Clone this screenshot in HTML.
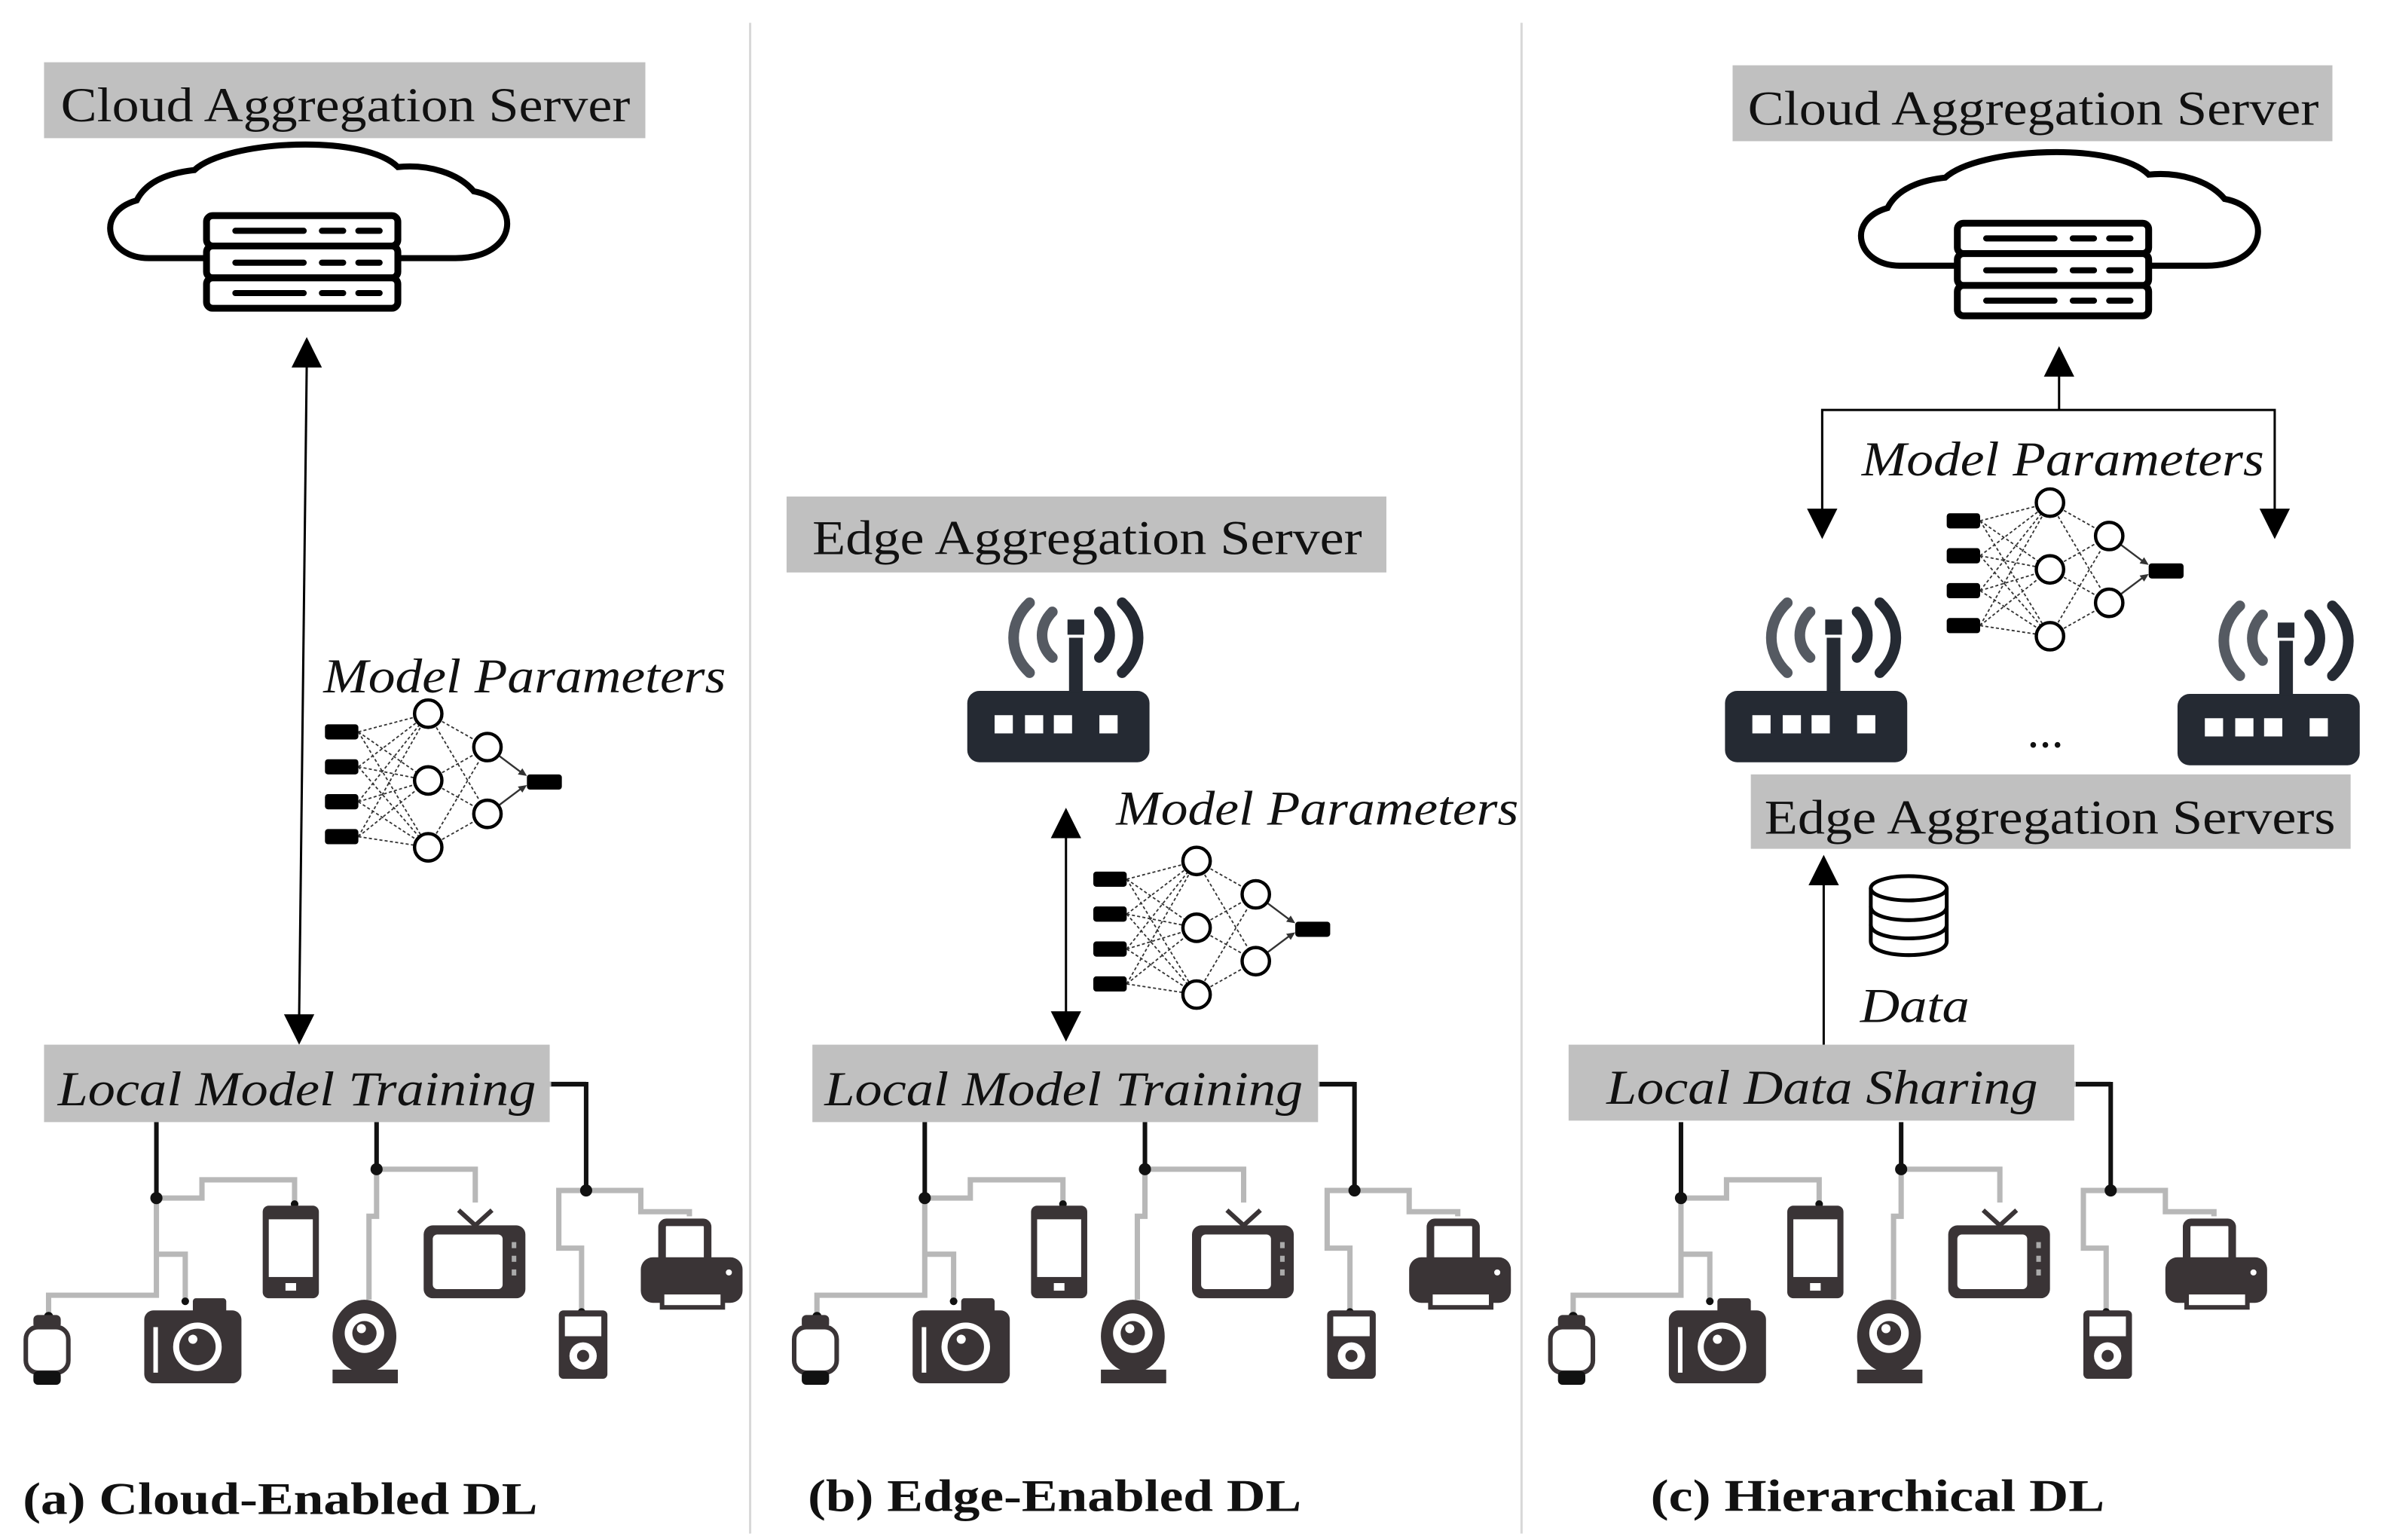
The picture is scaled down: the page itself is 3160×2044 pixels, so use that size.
<!DOCTYPE html>
<html><head><meta charset="utf-8"><style>
html,body{margin:0;padding:0;background:#fff;}
svg{display:block;}
.t{font-family:"Liberation Serif","Times New Roman",Tinos,Times,serif;font-size:32px;fill:#111;}
.i{font-style:italic;}
.b{font-weight:bold;font-size:30px;}
</style></head><body>
<svg width="3160" height="2044" viewBox="0 0 1568 1014.2" preserveAspectRatio="none" xmlns="http://www.w3.org/2000/svg">
<defs>
<g id="cloud" fill="none" stroke="#000">
  <path d="M134,170 H98 C70,170 62,140 90,132 C96,120 110,114 128,112 C150,92 240,88 262,110 C282,108 302,114 312,126 C344,132 342,170 300,170 H262" stroke-width="4"/>
  <rect x="136" y="142" width="126" height="20" rx="4" fill="#fff" stroke-width="4.5"/>
  <rect x="136" y="162" width="126" height="21" rx="4" fill="#fff" stroke-width="4.5"/>
  <rect x="136" y="183" width="126" height="20" rx="4" fill="#fff" stroke-width="4.5"/>
  <path d="M155,152 H200 M212,152 H226 M236,152 H250 M155,173 H200 M212,173 H226 M236,173 H250 M155,193 H200 M212,193 H226 M236,193 H250" stroke-width="4" stroke-linecap="round"/>
</g>
<g id="router">
  <rect x="637" y="455" width="120" height="47" rx="8" fill="#252a33"/>
  <g fill="#fff"><rect x="655" y="471" width="12" height="12"/><rect x="675" y="471" width="12" height="12"/><rect x="694" y="471" width="12" height="12"/><rect x="724" y="471" width="12" height="12"/></g>
  <rect x="704" y="420" width="9" height="36" fill="#252a33"/>
  <rect x="703" y="408" width="11" height="10" fill="#252a33"/>
  <g fill="none" stroke="#252a33" stroke-width="7" stroke-linecap="round">
    <path d="M693,403 C684,412 684,425 693,433" stroke="#555a62"/>
    <path d="M724,403 C733,412 733,425 724,433"/>
    <path d="M678,397 C664,410 664,430 678,443" stroke="#555a62"/>
    <path d="M739,397 C753,410 753,430 739,443"/>
  </g>
</g>
<g id="nn">
  <g stroke="#333" stroke-width="0.9" stroke-dasharray="2 1.5" fill="none">
    <path d="M236,482 L282,470 M236,482 L282,514 M236,482 L282,558 M236,505 L282,470 M236,505 L282,514 M236,505 L282,558 M236,528 L282,470 M236,528 L282,514 M236,528 L282,558 M236,551 L282,470 M236,551 L282,514 M236,551 L282,558 M282,470 L321,492 M282,470 L321,536 M282,514 L321,492 M282,514 L321,536 M282,558 L321,492 M282,558 L321,536"/>
  </g>
  <path d="M321,492 L345,510 M321,536 L345,518" stroke="#333" stroke-width="1.2"/>
  <path d="M347,511 l-6,-1 l3,-4z M347,517 l-6,1 l3,4z" fill="#333"/>
  <g fill="#000"><rect x="214" y="477" width="22" height="10" rx="2"/><rect x="214" y="500" width="22" height="10" rx="2"/><rect x="214" y="523" width="22" height="10" rx="2"/><rect x="214" y="546" width="22" height="10" rx="2"/><rect x="347" y="510" width="23" height="10" rx="2"/></g>
  <g fill="#fff" stroke="#000" stroke-width="2.2"><circle cx="282" cy="470" r="9"/><circle cx="282" cy="514" r="9"/><circle cx="282" cy="558" r="9"/><circle cx="321" cy="492" r="9"/><circle cx="321" cy="536" r="9"/></g>
</g>
<g id="tree">
  <g fill="none" stroke-linejoin="miter">
    <g stroke="#b8b8b8" stroke-width="3.5">
      <path d="M103,789 H133 V777 H194 V794"/>
      <path d="M103,789 V853 H32 V867"/>
      <path d="M103,826 H122 V857"/>
      <path d="M248,770 H313 V792"/>
      <path d="M248,770 V801 H243 V856"/>
      <path d="M386,784 H422 V798 H454 V801"/>
      <path d="M386,784 H368 V822 H383 V864"/>
      <path d="M362,714 H386"/>
    </g>
    <g stroke="#111" stroke-width="3">
      <path d="M103,739 V789"/><path d="M248,739 V770"/><path d="M363,714 H386 V784"/>
    </g>
  </g>
  <g fill="#111"><circle cx="103" cy="789" r="4"/><circle cx="248" cy="770" r="4"/><circle cx="386" cy="784" r="4"/>
    <circle cx="194" cy="793" r="2.5"/><circle cx="122" cy="857" r="2.5"/><circle cx="383" cy="864" r="2.5"/><circle cx="32" cy="867" r="3"/></g>
  <g fill="#3a3436">
    <rect x="173" y="794" width="37" height="61" rx="4"/>
    <rect x="177" y="803" width="29" height="38" fill="#fff"/>
    <rect x="188" y="845" width="7" height="5" fill="#fff"/>
    <rect x="95" y="863" width="64" height="48" rx="6"/>
    <rect x="127" y="855" width="22" height="10" rx="2"/>
    <rect x="101" y="874" width="3" height="30" fill="#fff"/>
    <circle cx="130" cy="887" r="16" fill="#fff"/><circle cx="130" cy="887" r="12"/><circle cx="127" cy="882" r="3" fill="#fff"/>
    <rect x="17" y="874" width="28" height="30" rx="8" fill="#fff" stroke="#3a3436" stroke-width="3"/>
    <rect x="22" y="866" width="18" height="9" rx="3"/><rect x="22" y="903" width="18" height="9" rx="3" fill="#111"/>
    <rect x="279" y="807" width="67" height="48" rx="6"/>
    <rect x="285" y="813" width="46" height="36" rx="3" fill="#fff"/>
    <rect x="337" y="818" width="3" height="4" fill="#aaa"/><rect x="337" y="827" width="3" height="4" fill="#aaa"/><rect x="337" y="836" width="3" height="4" fill="#aaa"/>
    <path d="M302,797 L313,807 L324,797" fill="none" stroke="#3a3436" stroke-width="3"/>
    <ellipse cx="240" cy="880" rx="21" ry="24"/>
    <circle cx="240" cy="878" r="13" fill="#fff"/><circle cx="240" cy="878" r="8"/><circle cx="238" cy="875" r="3" fill="#fff"/>
    <rect x="219" y="902" width="43" height="9"/>
    <rect x="368" y="863" width="32" height="45" rx="3"/>
    <rect x="372" y="867" width="24" height="13" fill="#fff"/>
    <circle cx="384" cy="893" r="9" fill="#fff"/><circle cx="384" cy="893" r="4"/>
    <rect x="436" y="805" width="30" height="28" rx="3" fill="#fff" stroke="#3a3436" stroke-width="5"/>
    <rect x="422" y="828" width="67" height="30" rx="8"/>
    <rect x="436" y="851" width="40" height="10" fill="#fff" stroke="#3a3436" stroke-width="3"/>
    <circle cx="480" cy="838" r="2" fill="#fff"/>
  </g>
</g>
<path id="up" d="M0,0 L-10,20 L10,20Z" fill="#000"/>
<path id="dn" d="M0,0 L-10,-20 L10,-20Z" fill="#000"/>
</defs>

<rect width="1568" height="1015" fill="#fff"/>
<path d="M494,15 V1010 M1002,15 V1010" stroke="#d8d8d8" stroke-width="1.5"/>

<rect x="29" y="41" width="396" height="50" fill="#c0c0c0"/>
<text class="t" x="40" y="80" textLength="375" lengthAdjust="spacingAndGlyphs">Cloud Aggregation Server</text>
<use href="#cloud"/>
<path d="M202,240 L197,670" stroke="#000" stroke-width="1.5"/>
<use href="#up" x="202" y="222"/>
<use href="#dn" x="197" y="688"/>
<text class="t i" x="213" y="456" textLength="265" lengthAdjust="spacingAndGlyphs">Model Parameters</text>
<use href="#nn"/>
<rect x="29" y="688" width="333" height="51" fill="#c0c0c0"/>
<text class="t i" x="38" y="728" textLength="315" lengthAdjust="spacingAndGlyphs">Local Model Training</text>
<use href="#tree"/>
<text class="t b" x="15" y="997" textLength="339" lengthAdjust="spacingAndGlyphs">(a) Cloud-Enabled DL</text>

<rect x="518" y="327" width="395" height="50" fill="#c0c0c0"/>
<text class="t" x="535" y="365" textLength="362" lengthAdjust="spacingAndGlyphs">Edge Aggregation Server</text>
<use href="#router"/>
<path d="M702,550 V668" stroke="#000" stroke-width="1.5"/>
<use href="#up" x="702" y="532"/>
<use href="#dn" x="702" y="686"/>
<text class="t i" x="735" y="543" textLength="265" lengthAdjust="spacingAndGlyphs">Model Parameters</text>
<use href="#nn" transform="translate(506,97)"/>
<rect x="535" y="688" width="333" height="51" fill="#c0c0c0"/>
<text class="t i" x="543" y="728" textLength="315" lengthAdjust="spacingAndGlyphs">Local Model Training</text>
<use href="#tree" transform="translate(506,0)"/>
<text class="t b" x="532" y="995" textLength="325" lengthAdjust="spacingAndGlyphs">(b) Edge-Enabled DL</text>

<rect x="1141" y="43" width="395" height="50" fill="#c0c0c0"/>
<text class="t" x="1151" y="82" textLength="376" lengthAdjust="spacingAndGlyphs">Cloud Aggregation Server</text>
<use href="#cloud" transform="translate(1153,5)"/>
<path d="M1356,245 V270 M1200,337 V270 H1498 V337" fill="none" stroke="#000" stroke-width="1.5"/>
<use href="#up" x="1356" y="228"/>
<use href="#dn" x="1200" y="355"/>
<use href="#dn" x="1498" y="355"/>
<text class="t i" x="1226" y="313" textLength="265" lengthAdjust="spacingAndGlyphs">Model Parameters</text>
<use href="#nn" transform="translate(1068,-139)"/>
<use href="#router" transform="translate(499,0)"/>
<use href="#router" transform="translate(797,2)"/>
<text class="t" x="1335" y="492" font-size="22">...</text>
<rect x="1153" y="510" width="395" height="49" fill="#c0c0c0"/>
<text class="t" x="1162" y="549" textLength="376" lengthAdjust="spacingAndGlyphs">Edge Aggregation Servers</text>
<path d="M1201,580 V688" stroke="#000" stroke-width="1.5"/>
<use href="#up" x="1201" y="563"/>
<g fill="#fff" stroke="#000" stroke-width="2.5">
  <path d="M1232,585 V620 C1232,632 1282,632 1282,620 V585"/>
  <path d="M1232,597 C1232,609 1282,609 1282,597 M1232,609 C1232,621 1282,621 1282,609" fill="none"/>
  <ellipse cx="1257" cy="585" rx="25" ry="8"/>
</g>
<text class="t i" x="1225" y="673" textLength="72" lengthAdjust="spacingAndGlyphs">Data</text>
<rect x="1033" y="688" width="333" height="50" fill="#c0c0c0"/>
<text class="t i" x="1058" y="727" textLength="284" lengthAdjust="spacingAndGlyphs">Local Data Sharing</text>
<use href="#tree" transform="translate(1004,0)"/>
<text class="t b" x="1087" y="995" textLength="299" lengthAdjust="spacingAndGlyphs">(c) Hierarchical DL</text>
</svg>
</body></html>
